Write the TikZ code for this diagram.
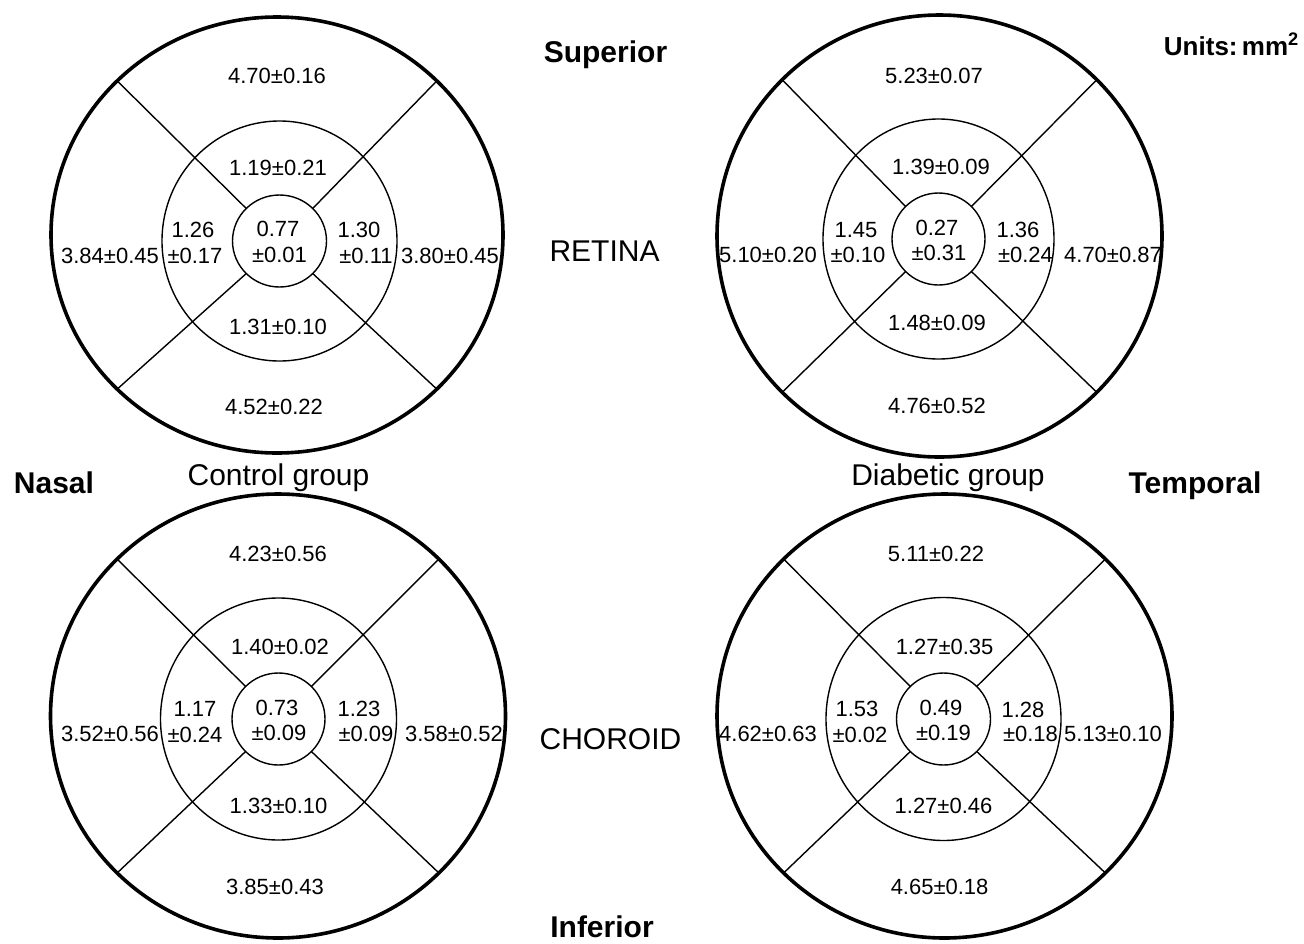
\documentclass[tikz,border=0pt]{standalone}
\usepackage{fontspec}
\setmainfont{Liberation Sans}
\newcommand\valnode[4]{\node[val] (#1) at (#2,#3+7.8) {#4};}
\tikzset{
  val/.style={font=\fontsize{22}{26}\selectfont, inner sep=0pt, anchor=base},
  lab/.style={font=\fontsize{30}{36}\selectfont, inner sep=0pt, anchor=base},
  blab/.style={font=\fontsize{30}{36}\selectfont\bfseries, inner sep=0pt, anchor=base},
  outerring/.style={line width=3.6pt},
  thinline/.style={line width=1.4pt},
}
\begin{document}
\begin{tikzpicture}[x=1pt,y=-1pt]
\path[use as bounding box, fill=white] (0,0) rectangle (1304,943);

% ---------- top-left grid (retina, control)
\draw[outerring] (277,235) ellipse [x radius=226pt, y radius=218pt];
\draw[thinline] (279.5,241) ellipse [x radius=117.5pt, y radius=120pt];
\draw[thinline] (279.5,241) ellipse [x radius=47pt, y radius=46pt];
\draw[thinline] (246.3,208.5) -- (117.2,80.9);
\draw[thinline] (312.7,208.5) -- (436.8,80.9);
\draw[thinline] (246.3,273.5) -- (117.2,389.1);
\draw[thinline] (312.7,273.5) -- (436.8,389.1);

% ---------- top-right grid (retina, diabetic)
\draw[outerring] (939.5,236) ellipse [x radius=222.5pt, y radius=221pt];
\draw[thinline] (938.5,239) ellipse [x radius=115.5pt, y radius=120pt];
\draw[thinline] (938.5,239) ellipse [x radius=46.5pt, y radius=46pt];
\draw[thinline] (905.6,206.5) -- (782.2,79.7);
\draw[thinline] (971.4,206.5) -- (1096.8,79.7);
\draw[thinline] (905.6,271.5) -- (782.2,392.3);
\draw[thinline] (971.4,271.5) -- (1096.8,392.3);

% ---------- bottom-left grid (choroid, control)
\draw[outerring] (278,716) ellipse [x radius=227.5pt, y radius=222pt];
\draw[thinline] (278.5,719) ellipse [x radius=118pt, y radius=121pt];
\draw[thinline] (278.5,719) ellipse [x radius=46.5pt, y radius=46pt];
\draw[thinline] (245.6,686.5) -- (117.1,559);
\draw[thinline] (311.4,686.5) -- (438.9,559);
\draw[thinline] (245.6,751.5) -- (117.1,873);
\draw[thinline] (311.4,751.5) -- (438.9,873);

% ---------- bottom-right grid (choroid, diabetic)
\draw[outerring] (944.5,716) ellipse [x radius=227.5pt, y radius=222pt];
\draw[thinline] (943.5,719) ellipse [x radius=117.5pt, y radius=121.5pt];
\draw[thinline] (943.5,719) ellipse [x radius=47pt, y radius=46pt];
\draw[thinline] (910.3,686.5) -- (783.6,559);
\draw[thinline] (976.7,686.5) -- (1105.4,559);
\draw[thinline] (910.3,751.5) -- (783.6,873);
\draw[thinline] (976.7,751.5) -- (1105.4,873);

% ---------- labels
\node[blab] (superior) at (605.5,62) {Superior};
\node[blab, font=\fontsize{26}{30}\selectfont\bfseries, anchor=base east] (units) at (1299,55) {Units:\,mm\textsuperscript{2}};
\node[lab] (retina) at (604.5,261) {RETINA};
\node[lab] (choroid) at (610.5,749) {CHOROID};
\node[blab] (nasal) at (54,493) {Nasal};
\node[blab] (temporal) at (1195,493) {Temporal};
\node[blab] (inferior) at (602,937) {Inferior};
\node[lab] (control) at (278.5,485) {Control group};
\node[lab] (diabetic) at (948,485) {Diabetic group};

% ---------- values top-left
\valnode{a1}{277}{76}{4.70±0.16}
\valnode{a2}{278}{168}{1.19±0.21}
\valnode{a3}{193}{230}{1.26}
\valnode{a3b}{195}{256}{±0.17}
\valnode{a4}{278}{229}{0.77}
\valnode{a4b}{279.5}{255}{±0.01}
\valnode{a5}{359}{230}{1.30}
\valnode{a5b}{366}{256}{±0.11}
\valnode{a6}{110}{256}{3.84±0.45}
\valnode{a7}{450}{256}{3.80±0.45}
\valnode{a8}{278}{327}{1.31±0.10}
\valnode{a9}{274}{407}{4.52±0.22}

% ---------- values top-right
\valnode{b1}{934}{76}{5.23±0.07}
\valnode{b2}{941}{167}{1.39±0.09}
\valnode{b3}{856}{230}{1.45}
\valnode{b3b}{858}{255}{±0.10}
\valnode{b4}{937}{228}{0.27}
\valnode{b4b}{939}{253}{±0.31}
\valnode{b5}{1018}{230}{1.36}
\valnode{b5b}{1025.5}{255}{±0.24}
\valnode{b6}{768}{255}{5.10±0.20}
\valnode{b7}{1113}{255}{4.70±0.87}
\valnode{b8}{937}{323}{1.48±0.09}
\valnode{b9}{937}{406}{4.76±0.52}

% ---------- values bottom-left
\valnode{c1}{278}{554}{4.23±0.56}
\valnode{c2}{280}{647}{1.40±0.02}
\valnode{c3}{195}{709}{1.17}
\valnode{c3b}{195}{735}{±0.24}
\valnode{c4}{277}{708}{0.73}
\valnode{c4b}{279}{733}{±0.09}
\valnode{c5}{359}{709}{1.23}
\valnode{c5b}{366}{734}{±0.09}
\valnode{c6}{110}{734}{3.52±0.56}
\valnode{c7}{454}{734}{3.58±0.52}
\valnode{c8}{278.6}{806}{1.33±0.10}
\valnode{c9}{275}{887}{3.85±0.43}

% ---------- values bottom-right
\valnode{d1}{936}{554}{5.11±0.22}
\valnode{d2}{944.6}{647}{1.27±0.35}
\valnode{d3}{857}{709}{1.53}
\valnode{d3b}{860}{735}{±0.02}
\valnode{d4}{941}{708}{0.49}
\valnode{d4b}{943.5}{733}{±0.19}
\valnode{d5}{1023}{710}{1.28}
\valnode{d5b}{1030.5}{734}{±0.18}
\valnode{d6}{768}{734}{4.62±0.63}
\valnode{d7}{1113}{734}{5.13±0.10}
\valnode{d8}{943.5}{806}{1.27±0.46}
\valnode{d9}{939.6}{887}{4.65±0.18}
\end{tikzpicture}
\end{document}
